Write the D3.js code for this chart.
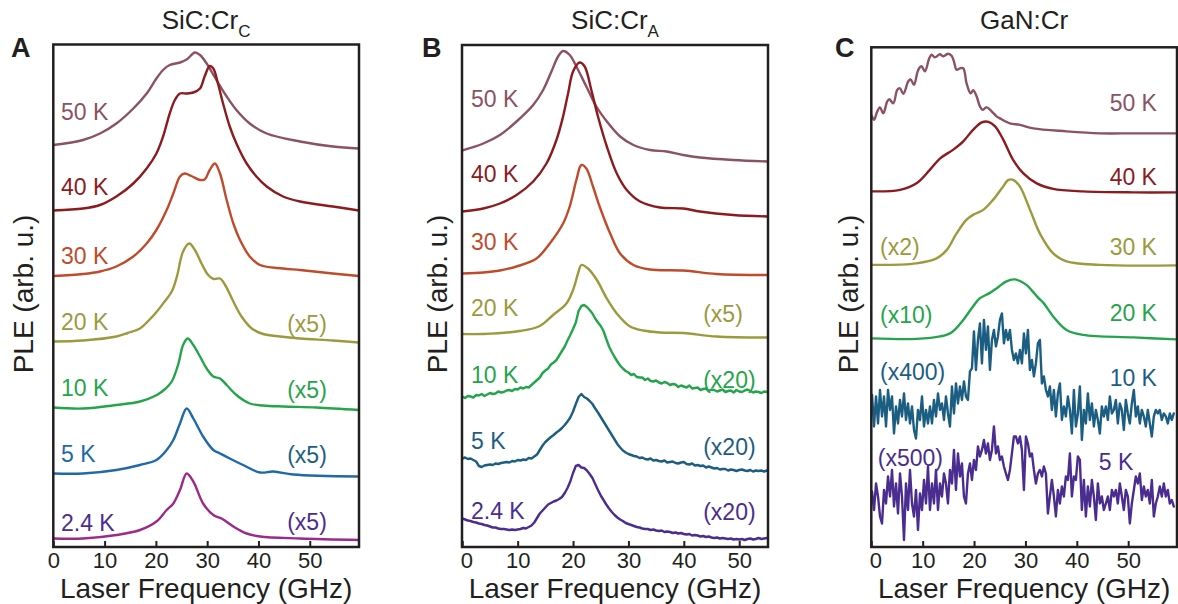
<!DOCTYPE html>
<html>
<head>
<meta charset="utf-8">
<title>PLE spectra of Cr defects</title>
<script src="https://cdn.jsdelivr.net/npm/d3@7/dist/d3.min.js"></script>
<style>
  html, body { margin: 0; padding: 0; background: #fff; }
  svg { display: block; }
  text { font-family: "Liberation Sans", Arial, sans-serif; fill: #231f20; }
</style>
</head>
<body>
<svg id="fig" width="1178" height="604"></svg>
<script>
// Frequency axis ticks (GHz)
const freqTicks = [0, 10, 20, 30, 40, 50];

// ---------- SiC:Cr_C : [laser detuning (GHz), PLE (arb. u., stacked)] ----------
const A_50K = [[0,80.4],[5.8,81.4],[9.1,82.7],[12.3,84.7],[15.6,87.7],[18.2,90.7],[20.1,93.7],[21.4,95.4],[22.7,96.4],[24.7,96.9],[26,97.5],[27.6,98.9],[28.6,98.4],[29.9,96.7],[31.8,93.4],[33.8,90.1],[35.7,87.4],[38.3,84.7],[41.6,82.7],[48.1,81.1],[54.5,80.1],[59.6,79.7]];
const A_40K = [[0,67.3],[5.8,67.7],[9.1,68.4],[12.3,70.1],[15.6,72.7],[18.2,75.7],[20.1,78.7],[21.4,82.1],[22.7,86.7],[23.7,89.4],[24.7,90.7],[26,90.7],[27.3,90.9],[28.6,91.7],[29.5,94.1],[30.5,96.2],[31.2,95.7],[32.1,92.7],[33.1,88.7],[34.4,84.1],[35.7,80.7],[37.7,76.7],[39.6,74.1],[41.6,72.1],[44.8,70.1],[48.1,69.1],[54.5,68.1],[59.6,67.3]];
const A_30K = [[0,54.2],[5.8,54.6],[9.1,55.1],[12.3,56.1],[15.6,58.1],[18.2,60.7],[20.1,63.4],[22.1,67.4],[23.4,70.7],[24.7,74.1],[25.6,74.7],[26.9,74.2],[28.6,73.4],[29.5,73.5],[30.5,75.4],[31.5,76.7],[32.5,74.7],[33.8,69.4],[35.1,64.7],[36.4,61.4],[38.3,58.1],[40.3,56.4],[44.8,55.7],[48.1,55.4],[54.5,54.7],[59.6,54.2]];
const A_20K = [[0,41.1],[5.8,41.3],[12.3,42.1],[14.5,42.8],[16.9,43.7],[18.6,45.3],[20.2,47.1],[21.7,49.1],[23.1,51.1],[24.1,54.1],[25.3,59.1],[26.5,60.7],[27.6,59.4],[28.9,56.7],[30.2,54.4],[31.3,53.6],[32.5,53.7],[33.5,52.4],[35.1,49.1],[36.7,46.1],[38.7,43.7],[40.9,42.6],[44.2,42.1],[48.1,41.7],[54.5,41.3],[59.6,40.9]];
const A_10K = [[0,27.9],[5.8,27.7],[12.3,28.4],[16.9,29.1],[20.2,30.4],[21.8,31.6],[23.1,33.1],[24.4,36.7],[25.3,40.4],[26.2,41.7],[27.3,40.4],[28.6,38.1],[29.9,35.7],[31.2,34.1],[32.5,33.7],[33.8,32.4],[35.7,30.4],[38.3,28.7],[40.9,28.3],[44.8,28.1],[51.3,27.9],[59.6,27.4]];
const A_5K = [[0,14.7],[5.8,14.7],[12.3,15.4],[16.9,16.4],[20.1,17.4],[22.1,19.4],[23.4,21.4],[24.7,24.7],[26,27.7],[27.3,25.7],[29.2,22.1],[31.2,19.4],[32.5,18.7],[34.4,17.7],[37,16.4],[40.3,14.9],[42.9,15.1],[46.8,14.5],[59.6,14.1]];
const A_2K4 = [[0,1.7],[5.8,1.7],[12.3,2.4],[16.9,3.4],[20.1,5.1],[22.1,7.4],[23.4,8.7],[24.7,11.4],[26,14.7],[27.3,13.1],[29.2,8.7],[31.2,6.4],[32.8,5.7],[35.1,4.1],[37.7,2.7],[40.3,2.1],[48.1,1.7],[59.6,1.4]];

// ---------- SiC:Cr_A ----------
const B_50K = [[-0.05,79.3],[3.8,80.7],[6.8,82.4],[9.8,85.1],[12.8,88.4],[14.6,91.4],[16.1,95.1],[17.3,98.1],[18.2,99.2],[19.4,98.4],[20.6,96.1],[22.4,92.1],[24.2,88.1],[26.1,85.1],[28.5,82.1],[30.9,80.4],[33.9,79.4],[36.9,79.1],[39.9,78.4],[42.9,77.9],[48.9,77.4],[55.2,77.1]];
const B_40K = [[-0.05,67.1],[3.8,67.7],[6.8,68.7],[9.8,70.4],[12.8,73.1],[15.2,76.7],[17,81.4],[18.2,86.1],[19.1,90.7],[20,95.1],[21.2,96.9],[22.1,96.1],[23.3,91.4],[24.5,86.1],[26.1,80.1],[27.9,74.7],[29.7,71.4],[32.1,69.1],[35.7,67.9],[39.9,67.7],[42.9,67.1],[48.9,66.4],[55.2,66.1]];
const B_30K = [[-0.05,54.7],[3.8,54.9],[6.8,55.3],[9.8,56.1],[13.4,57.7],[15.8,60.7],[18.2,64.7],[19.4,68.1],[20.6,73.4],[21.5,76.4],[22.4,75.7],[23.6,72.1],[24.8,68.1],[26.7,62.7],[28.5,58.7],[30.9,56.4],[33.9,55.5],[39.9,55.3],[45.9,54.6],[55.2,54.4]];
const B_20K = [[-0.05,42.6],[3.8,42.6],[10.4,43.2],[14.0,44.2],[16.4,46.4],[18.8,48.7],[20.0,51.4],[20.9,54.7],[21.5,56.4],[22.7,55.7],[24.3,53.4],[26.1,49.7],[27.9,46.7],[30.3,44.1],[32.7,43.3],[35.7,42.9],[39.9,42.8],[45.9,42.1],[55.2,41.9]];
// low-temperature sweeps, 0.5 GHz step from 0 GHz
const B_sweep = { start: 0, step: 0.5 };
const B_10K = [
  30.1,29.8,30.2,30.1,29.9,30.4,30.3,30.6,30.2,30.5,
  30.8,30.6,30.7,31.1,30.9,31.0,31.3,31.4,31.2,31.6,
  31.5,31.9,31.7,32.0,31.9,32.4,32.9,33.4,33.9,34.8,
  35.3,35.7,36.5,36.9,37.4,38.3,39.2,40.1,41.3,42.4,
  43.6,44.9,47.2,48.2,48.4,48.0,47.4,46.7,45.7,44.9,
  44.2,43.2,41.6,40.1,39.0,38.0,37.1,36.3,35.7,35.2,
  34.9,34.4,34.6,34.0,33.9,33.9,33.4,33.7,33.2,33.1,
  33.3,32.9,32.7,33.0,32.8,32.4,32.6,32.5,32.0,32.3,
  32.1,31.9,32.3,31.7,31.8,31.9,31.4,31.6,31.7,31.2,
  31.5,31.4,31.1,31.3,31.5,31.0,31.2,31.3,30.9,31.4,
  31.1,31.0,31.3,31.5,31.2,30.9,31.1,31.0,30.8,31.1,
  31.0];
const B_5K = [
  17.7,17.9,17.6,17.7,17.4,17.1,16.2,16.0,16.3,16.4,
  16.5,16.4,16.7,16.6,16.8,16.9,17.0,16.9,17.2,17.1,
  17.4,17.3,17.5,17.4,17.8,17.7,18.1,18.5,19.4,20.3,
  21.0,21.5,22.0,22.4,22.9,23.3,23.8,24.4,25.1,25.9,
  27.1,28.6,30.0,30.6,30.0,29.7,29.2,28.6,27.7,26.9,
  26.0,25.1,24.2,23.3,22.4,21.5,20.6,19.9,19.3,18.9,
  18.6,18.4,18.2,18.1,17.8,17.9,17.6,17.5,17.7,17.3,
  17.4,17.2,17.1,17.3,16.9,17.0,17.1,16.8,16.7,16.9,
  17.0,16.6,16.5,16.7,16.3,16.4,16.2,16.3,15.9,16.1,
  15.9,15.7,15.8,15.5,15.6,15.6,15.3,15.5,15.4,15.2,
  15.4,15.5,15.3,15.2,15.4,15.1,15.3,15.2,15.3,15.1,
  15.3];
const B_2K4 = [
  5.7,5.5,5.3,5.2,5.0,4.9,4.7,4.6,4.4,4.3,
  4.1,3.9,3.9,3.7,3.6,3.6,3.5,3.4,3.5,3.4,
  3.5,3.6,3.8,3.7,4.0,4.3,4.9,5.8,6.7,7.3,
  7.9,8.5,8.8,9.1,9.3,9.6,10.0,10.8,11.8,13.1,
  14.8,16.2,16.4,15.9,15.8,15.3,14.6,13.8,12.6,11.4,
  10.3,9.4,8.5,7.7,7.0,6.4,5.9,5.5,5.2,4.8,
  4.6,4.4,4.2,4.0,3.9,3.7,3.6,3.6,3.4,3.5,
  3.3,3.2,3.3,3.0,3.1,3.0,2.8,2.9,2.7,2.8,
  2.6,2.5,2.6,2.3,2.4,2.3,2.1,2.2,2.0,2.1,
  1.9,1.8,1.9,1.7,1.8,1.7,1.6,1.7,1.5,1.6,
  1.5,1.6,1.4,1.6,1.7,1.5,1.6,1.8,1.6,1.7,
  1.8];

// ---------- GaN:Cr ----------
const C_50K = [[0,86.4],[0.52,85.4],[1.17,87.1],[1.69,87.9],[2.33,86.7],[3.11,89.1],[3.5,89.5],[4.28,88.7],[5.06,91.4],[5.58,91.7],[6.23,90.6],[7.2,93.1],[7.65,93.5],[8.3,92.4],[9.14,95.4],[9.79,96.1],[10.44,95.1],[11.28,97.7],[11.74,98.4],[12.39,97.9],[13.36,98.5],[14.01,98.1],[14.98,98.6],[15.63,98.2],[16.08,97.1],[16.6,95.4],[17.25,95.7],[17.9,95.7],[18.55,92.7],[19.33,90.7],[19.84,91.3],[20.49,90.1],[21.14,88.1],[21.66,87.4],[22.44,87.9],[23.41,87.1],[24.38,86.1],[25.03,85.7],[26.98,84.7],[28.92,84.4],[31.52,83.7],[38,83.1],[44.5,82.7],[51,82.7],[59.5,82.7]];
const C_40K = [[0,71.1],[5.6,71.4],[8.8,72.7],[11.4,75.4],[13.4,77.7],[15.9,79.4],[17.9,81.1],[19.8,83.4],[21.5,84.9],[22.8,85.0],[24.1,84.1],[25.7,81.4],[27.6,77.4],[29.6,74.7],[32.2,72.7],[35.4,71.6],[41.2,71.1],[51,70.9],[59.5,70.9]];
const C_30K = [[0,56.4],[8.8,56.7],[12.7,57.7],[14.7,59.4],[16.6,62.7],[18.5,65.4],[19.8,66.4],[21.8,67.4],[23.7,69.4],[25.4,71.7],[26.7,73.4],[27.6,73.4],[28.9,72.1],[30.9,67.4],[32.8,62.7],[35.4,58.7],[38,57.1],[44.5,56.4],[59.5,56.3]];
const C_20K = [[0,41.7],[8.8,41.6],[13.4,42.1],[15.6,42.9],[17.9,45.4],[19.8,48.1],[21.1,49.7],[23.1,50.8],[24.5,51.8],[26.3,53.1],[27.9,53.5],[30.2,52.4],[31.5,51.0],[32.5,49.8],[33.5,48.8],[35.4,46.1],[38,43.4],[41.2,42.4],[51,41.9],[59.5,41.5]];
// weak low-temperature sweeps, 0.389 GHz step
const C_sweep = { start: 0.14, step: 0.389 };
const C_10K = [
  30.4,24.1,30.1,24.7,31.4,26.1,30.1,24.1,31.4,27.4,
  30.1,22.7,28.1,24.7,29.4,26.1,30.7,25.4,28.7,24.7,
  28.1,23.4,21.7,27.4,25.4,30.1,24.1,27.4,24.7,28.1,
  24.7,29.4,26.1,30.7,27.4,28.7,25.4,30.1,26.7,24.1,
  32.1,26.7,32.7,28.7,32.1,29.4,33.1,30.1,29.4,35.1,
  35.7,43.1,35.4,41.4,44.7,36.7,45.4,39.4,44.1,35.4,
  41.4,43.4,40.1,42.1,45.4,46.7,40.7,43.4,41.4,43.4,
  39.4,37.4,38.7,36.7,
  39.4,36.7,42.7,38.7,43.4,35.4,37.4,34.1,36.7,40.7,
  41.4,32.7,34.1,31.4,30.1,32.1,27.4,31.4,26.1,30.7,
  32.7,25.4,28.1,26.1,30.1,27.4,22.7,31.4,24.1,26.7,
  32.1,21.4,27.4,24.7,30.7,25.4,28.7,24.1,27.4,25.4,
  22.7,28.1,26.1,28.1,25.4,30.1,26.7,27.4,29.4,24.7,
  28.7,27.4,23.4,29.4,26.7,24.7,28.7,31.4,26.1,28.1,
  24.7,27.4,26.1,24.1,27.4,24.7,22.1,26.1,27.4,26.7,
  27.4,25.4,26.7,26.1,24.7,26.7,25.4,26.7];
const C_5K = [
  11.1,7.4,12.7,10.1,6.1,4.7,11.4,8.7,14.1,10.1,
  15.4,8.1,12.7,6.7,14.7,10.1,1.4,12.7,7.4,15.4,
  8.7,6.1,11.4,3.4,10.7,7.4,13.4,8.7,16.1,7.4,
  12.7,8.7,15.4,7.4,12.7,10.1,14.7,12.7,8.7,15.4,
  12.7,19.4,11.4,18.7,14.1,16.7,10.1,8.7,14.7,16.7,
  13.4,17.4,15.4,20.1,18.1,19.4,21.4,18.7,20.7,17.4,
  19.4,24.1,18.7,20.1,17.4,18.1,16.1,14.7,13.4,15.4,
  18.7,22.1,22.1,20.7,
  22.1,19.4,11.4,22.1,20.7,18.1,18.7,15.4,12.7,14.7,
  15.4,14.1,16.1,14.7,6.7,10.1,13.4,10.1,6.1,11.4,
  8.7,12.1,10.1,14.1,13.4,18.7,10.1,14.1,13.4,18.1,
  17.4,7.4,13.4,6.1,12.1,8.1,13.4,10.1,5.4,12.7,
  8.7,10.1,7.4,8.7,10.1,7.4,11.4,10.1,11.4,8.7,
  12.7,10.1,7.4,11.4,10.1,4.7,8.7,11.4,14.1,12.7,
  14.7,9.4,12.1,10.1,11.4,8.7,13.4,6.1,8.7,10.1,
  12.1,10.1,12.7,10.1,11.4,8.7,9.4,8.1];

// Trace colours
const COL = {
  mauve: "#8b5262", darkRed: "#8c1b1f", rust: "#bf4b2b", olive: "#9b9a3c",
  green: "#25a54b", blue: "#1f69a8", teal: "#1c5e82", magenta: "#9b2a8b", purple: "#4a2d8f"
};

const toPairs = (vals, sw) => vals.map((v, i) => [sw.start + i * sw.step, v]);

// ---------- panel layout ----------
const panels = [
  {
    letter: "A", title: "SiC:Cr", sub: "C",
    x0: 53.3, x1: 359, top: 44.5, bottom: 547, xDomain: [0, 59.6], yTop: 100.5,
    yLabelX: 33, letterX: 11, zeroNudge: 0,
    traces: [
      { data: A_50K, color: COL.mauve }, { data: A_40K, color: COL.darkRed },
      { data: A_30K, color: COL.rust }, { data: A_20K, color: COL.olive },
      { data: A_10K, color: COL.green }, { data: A_5K, color: COL.blue },
      { data: A_2K4, color: COL.magenta }
    ],
    labels: [
      ["50 K", COL.mauve, 1.5, 85.5, "start"], ["40 K", COL.darkRed, 1.5, 70.4, "start"],
      ["30 K", COL.rust, 1.5, 56.7, "start"], ["20 K", COL.olive, 1.5, 43.4, "start"],
      ["10 K", COL.green, 1.5, 30.2, "start"], ["5 K", COL.blue, 1.5, 17.1, "start"],
      ["2.4 K", COL.purple, 1.5, 3.3, "start"],
      ["(x5)", COL.olive, 45.6, 43.1, "start"], ["(x5)", COL.green, 45.6, 29.9, "start"],
      ["(x5)", COL.teal, 45.6, 16.9, "start"], ["(x5)", COL.purple, 45.6, 3.5, "start"]
    ]
  },
  {
    letter: "B", title: "SiC:Cr", sub: "A",
    x0: 462, x1: 768, top: 45, bottom: 547, xDomain: [-0.05, 55.2], yTop: 100.4,
    yLabelX: 446.5, letterX: 422, zeroNudge: 4,
    traces: [
      { data: B_50K, color: COL.mauve }, { data: B_40K, color: COL.darkRed },
      { data: B_30K, color: COL.rust }, { data: B_20K, color: COL.olive },
      { data: toPairs(B_10K, B_sweep), color: COL.green, raw: true },
      { data: toPairs(B_5K, B_sweep), color: COL.teal, raw: true },
      { data: toPairs(B_2K4, B_sweep), color: COL.purple, raw: true }
    ],
    labels: [
      ["50 K", COL.mauve, 1.57, 88.1, "start"], ["40 K", COL.darkRed, 1.57, 73.1, "start"],
      ["30 K", COL.rust, 1.57, 59.4, "start"], ["20 K", COL.olive, 1.57, 46.2, "start"],
      ["10 K", COL.green, 1.57, 32.9, "start"], ["5 K", COL.teal, 1.57, 19.7, "start"],
      ["2.4 K", COL.purple, 1.57, 5.7, "start"],
      ["(x5)", COL.olive, 43.5, 45.1, "start"], ["(x20)", COL.green, 43.5, 31.9, "start"],
      ["(x20)", COL.teal, 43.5, 18.5, "start"], ["(x20)", COL.purple, 43.5, 5.5, "start"]
    ]
  },
  {
    letter: "C", title: "GaN:Cr", sub: "",
    x0: 871.3, x1: 1177, top: 47.3, bottom: 547, xDomain: [0, 59.5], yTop: 99.9,
    yLabelX: 858, letterX: 835, zeroNudge: 4,
    traces: [
      { data: C_50K, color: COL.mauve }, { data: C_40K, color: COL.darkRed },
      { data: C_30K, color: COL.olive }, { data: C_20K, color: COL.green },
      { data: toPairs(C_10K, C_sweep), color: COL.teal, raw: true },
      { data: toPairs(C_5K, C_sweep), color: COL.purple, raw: true }
    ],
    labels: [
      ["50 K", COL.mauve, 55.6, 87.1, "end"], ["40 K", COL.darkRed, 55.6, 72.3, "end"],
      ["30 K", COL.olive, 55.6, 58.4, "end"], ["20 K", COL.green, 55.6, 45.1, "end"],
      ["10 K", COL.teal, 55.6, 32.1, "end"], ["5 K", COL.purple, 51.0, 15.4, "end"],
      ["(x2)", COL.olive, 1.7, 58.4, "start"], ["(x10)", COL.green, 1.7, 44.7, "start"],
      ["(x400)", COL.teal, 1.7, 33.4, "start"], ["(x500)", COL.purple, 1.25, 16.1, "start"]
    ]
  }
];

const svg = d3.select("#fig");
const ink = "#231f20";

panels.forEach((p, pi) => {
  const x = d3.scaleLinear().domain(p.xDomain).range([p.x0, p.x1]);
  const y = d3.scaleLinear().domain([0, p.yTop]).range([p.bottom, p.top]);
  const g = svg.append("g");

  const clipId = "clip" + pi;
  svg.append("defs").append("clipPath").attr("id", clipId)
    .append("rect").attr("x", p.x0).attr("y", p.top)
    .attr("width", p.x1 - p.x0).attr("height", p.bottom - p.top);

  const smooth = d3.line().x(d => x(d[0])).y(d => y(d[1])).curve(d3.curveCatmullRom.alpha(0.5));
  const raw = d3.line().x(d => x(d[0])).y(d => y(d[1]));

  const traces = g.append("g").attr("clip-path", `url(#${clipId})`);
  p.traces.forEach(t => {
    traces.append("path")
      .attr("d", (t.raw ? raw : smooth)(t.data))
      .attr("fill", "none")
      .attr("stroke", t.color)
      .attr("stroke-width", 2.4)
      .attr("stroke-linejoin", "round")
      .attr("stroke-linecap", "round");
  });

  // curve labels
  g.append("g").selectAll("text").data(p.labels).join("text")
    .attr("x", d => x(d[2])).attr("y", d => y(d[3]))
    .attr("text-anchor", d => d[4])
    .style("fill", d => d[1])
    .style("font-size", "23px")
    .text(d => d[0]);

  // bottom axis with inward ticks
  const axis = d3.axisBottom(x).tickValues(freqTicks).tickSizeInner(-6).tickSizeOuter(0).tickFormat(d3.format("d"));
  const ax = g.append("g").attr("transform", `translate(0,${p.bottom})`).call(axis);
  ax.select(".domain").remove();
  ax.selectAll(".tick line").attr("stroke", ink).attr("stroke-width", 2);
  ax.selectAll(".tick text")
    .attr("y", 21).attr("dy", 0)
    .attr("dx", d => d === 0 ? p.zeroNudge : 0)
    .style("font-size", "22px").style("font-family", '"Liberation Sans", Arial, sans-serif')
    .attr("fill", ink);

  // frame
  g.append("rect")
    .attr("x", p.x0).attr("y", p.top)
    .attr("width", p.x1 - p.x0).attr("height", p.bottom - p.top)
    .attr("fill", "none").attr("stroke", ink).attr("stroke-width", 2.5);

  const cx = (p.x0 + p.x1) / 2;

  // title
  const title = g.append("text").attr("x", cx).attr("y", 29)
    .attr("text-anchor", "middle").style("font-size", "26px").text(p.title);
  if (p.sub) title.append("tspan").attr("dy", 8).style("font-size", "17px").text(p.sub);

  // panel letter
  g.append("text").attr("x", p.letterX).attr("y", 57)
    .style("font-size", "27px").style("font-weight", "700").text(p.letter);

  // axis titles
  g.append("text").attr("x", cx).attr("y", 597.5)
    .attr("text-anchor", "middle").style("font-size", "28px").text("Laser Frequency (GHz)");
  g.append("text")
    .attr("transform", `translate(${p.yLabelX},294) rotate(-90)`)
    .attr("text-anchor", "middle").style("font-size", "28px").text("PLE (arb. u.)");
});
</script>
</body>
</html>
